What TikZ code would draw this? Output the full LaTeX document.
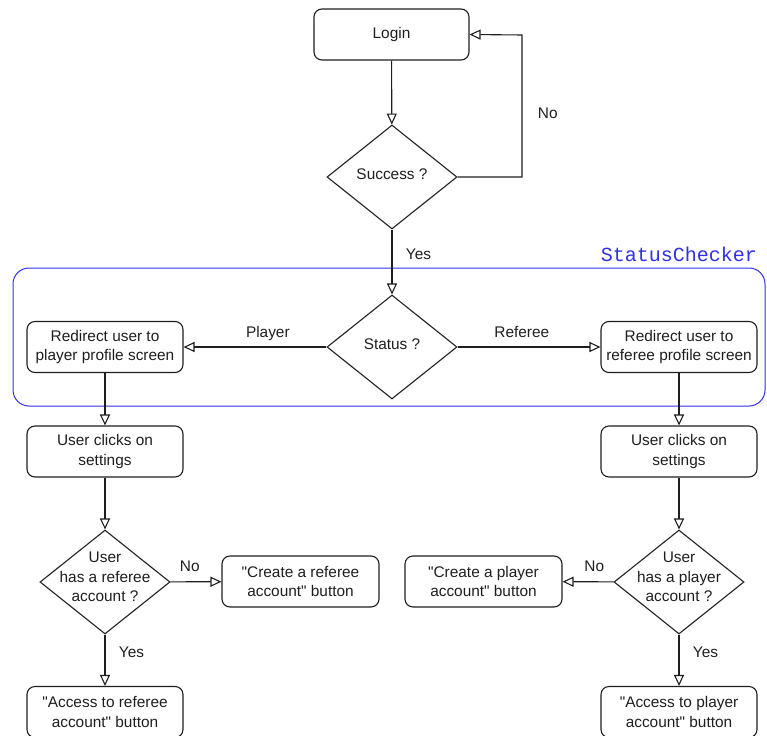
\documentclass[tikz,border=0pt]{standalone}
\usepackage{fontspec}
\setmainfont{Liberation Sans}
\setmonofont{Liberation Mono}
\usetikzlibrary{positioning,shapes.geometric,arrows.meta}
\definecolor{checkblue}{RGB}{48,48,230}
\definecolor{ink}{RGB}{30,30,30}

\begin{document}
\begin{tikzpicture}[
    x=1pt, y=-1pt,
    font=\fontsize{15.4}{19.5}\selectfont,
    every node/.style={text=ink},
    box/.style={
        rectangle,draw=ink,line width=1.1pt,rounded corners=8pt,
        minimum width=156pt,
        minimum height=51pt,
        align=center
    },
    decision/.style={
        diamond,draw=ink,line width=1.1pt,aspect=1.25,inner sep=0pt,
        minimum width=130pt,
        minimum height=104pt
    },
    arrow/.style={-{Triangle[open,length=11pt,width=10pt]},draw=ink,line width=1.1pt},
    lbl/.style={font=\fontsize{15.4}{19}\selectfont,text height=11pt,text depth=3pt}
]
\useasboundingbox (0,0) rectangle (767,735);

% StatusChecker group
\node[draw=checkblue,line width=1pt,rounded corners=16pt,
      minimum width=752pt,minimum height=138pt] (checker) at (389,337) {};
\node[anchor=south east,inner sep=0pt,text=checkblue,
      font=\ttfamily\fontsize{20}{24}\selectfont] (checkertitle) at (757,262) {StatusChecker};

\node[box, minimum width=155pt] (login) at (391.5,34.5) {Login};
\node[decision, text depth=6pt] (success) at (392,177) {Success ?};
\node[decision, text depth=6pt] (status) at (392,347) {Status ?};
\coordinate (loop) at (522,35);

\node[box] (toplayer) at (105,347) {Redirect user to\\player profile screen};
\node[box] (toreferee) at (679,347) {Redirect user to\\referee profile screen};
\node[box] (settingsl) at (105,451.5) {User clicks on\\settings};
\node[box] (settingsr) at (679,451.5) {User clicks on\\settings};

\node[decision] (hasreferee) at (105,582)
    {\smash{\begin{tabular}{@{}c@{}}User\\has a referee\\account ?\end{tabular}}};
\node[decision] (hasplayer) at (679,582)
    {\smash{\begin{tabular}{@{}c@{}}User\\has a player\\account ?\end{tabular}}};
\node[box, minimum width=157pt] (createreferee) at (300.5,581.5)
    {\textquotedbl Create a referee\\account\textquotedbl{} button};
\node[box, minimum width=157pt] (createplayer) at (483.5,581.5)
    {\textquotedbl Create a player\\account\textquotedbl{} button};
\node[box] (accessreferee) at (105,712) {\textquotedbl Access to referee\\account\textquotedbl{} button};
\node[box] (accessplayer) at (679,712) {\textquotedbl Access to player\\account\textquotedbl{} button};

\draw[arrow] (login) -- (success);
\draw[arrow] (success.east) -| node[pos=0.72, lbl, right=12pt]{No} (loop) -- (login.east);
\draw[arrow] (success) -- node[pos=0.4, lbl, right=10pt]{Yes} (status);
\draw[arrow] (status) -- node[pos=0.41, lbl, above=3pt]{Player} (toplayer);
\draw[arrow] (status) -- node[pos=0.45, lbl, above=3pt]{Referee} (toreferee);

\draw[arrow] (toplayer) -- (settingsl);
\draw[arrow] (settingsl) -- (hasreferee);
\draw[arrow] (hasreferee) -- node[pos=0.38, lbl, above=3pt]{No} (createreferee);
\draw[arrow] (hasreferee) -- node[pos=0.37, lbl, right=10pt]{Yes} (accessreferee);

\draw[arrow] (toreferee) -- (settingsr);
\draw[arrow] (settingsr) -- (hasplayer);
\draw[arrow] (hasplayer) -- node[pos=0.38, lbl, above=3pt]{No} (createplayer);
\draw[arrow] (hasplayer) -- node[pos=0.37, lbl, right=10pt]{Yes} (accessplayer);
\end{tikzpicture}
\end{document}
